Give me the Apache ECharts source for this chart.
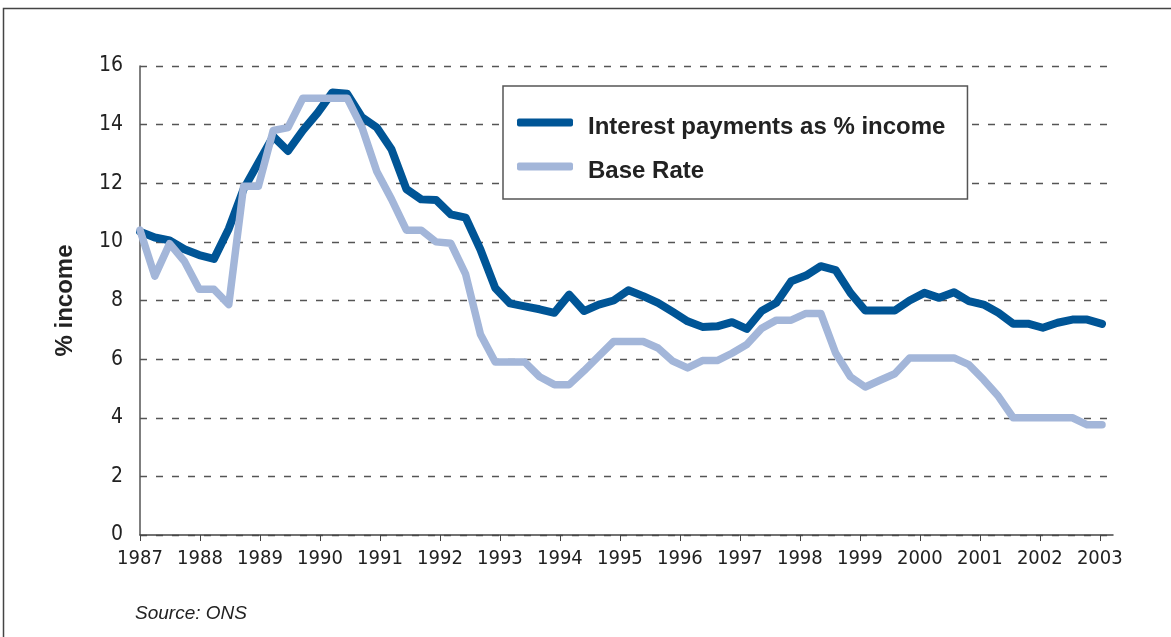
<!DOCTYPE html>
<html>
<head>
<meta charset="utf-8">
<script src="https://cdn.jsdelivr.net/npm/echarts@6.0.0/dist/echarts.min.js"></script>
<style>
  html, body { margin: 0; padding: 0; background: #fff; }
  #chart { width: 1171px; height: 637px; }
</style>
</head>
<body>
<div id="chart"></div>
<script>
// quarterly points, 1987 Q1 .. 2003 Q2
const quarters = [
  '1987 Q1','1987 Q2','1987 Q3','1987 Q4','1988 Q1','1988 Q2','1988 Q3','1988 Q4',
  '1989 Q1','1989 Q2','1989 Q3','1989 Q4','1990 Q1','1990 Q2','1990 Q3','1990 Q4',
  '1991 Q1','1991 Q2','1991 Q3','1991 Q4','1992 Q1','1992 Q2','1992 Q3','1992 Q4',
  '1993 Q1','1993 Q2','1993 Q3','1993 Q4','1994 Q1','1994 Q2','1994 Q3','1994 Q4',
  '1995 Q1','1995 Q2','1995 Q3','1995 Q4','1996 Q1','1996 Q2','1996 Q3','1996 Q4',
  '1997 Q1','1997 Q2','1997 Q3','1997 Q4','1998 Q1','1998 Q2','1998 Q3','1998 Q4',
  '1999 Q1','1999 Q2','1999 Q3','1999 Q4','2000 Q1','2000 Q2','2000 Q3','2000 Q4',
  '2001 Q1','2001 Q2','2001 Q3','2001 Q4','2002 Q1','2002 Q2','2002 Q3','2002 Q4',
  '2003 Q1','2003 Q2'
];

const interestPayments = [
  10.35, 10.15, 10.05, 9.75, 9.55, 9.42, 10.45, 11.8,
  12.7, 13.6, 13.1, 13.8, 14.4, 15.1, 15.05, 14.25,
  13.9, 13.15, 11.8, 11.45, 11.43, 10.94, 10.83, 9.74,
  8.43, 7.9, 7.8, 7.7, 7.58, 8.2, 7.64, 7.86,
  8.0, 8.35, 8.15, 7.92, 7.61, 7.29, 7.1, 7.12,
  7.26, 7.03, 7.64, 7.92, 8.66, 8.85, 9.17, 9.04,
  8.26, 7.66, 7.66, 7.66, 8.0, 8.26, 8.09, 8.28,
  7.98, 7.86, 7.58, 7.21, 7.21, 7.07, 7.24, 7.35,
  7.35, 7.2
];

const baseRate = [
  10.4, 8.83, 9.94, 9.34, 8.38, 8.38, 7.86, 11.9,
  11.9, 13.8, 13.9, 14.9, 14.9, 14.9, 14.9, 13.9,
  12.4, 11.45, 10.4, 10.4, 10.0, 9.95, 8.9, 6.85,
  5.9, 5.9, 5.9, 5.4, 5.13, 5.13, 5.6, 6.1,
  6.6, 6.6, 6.6, 6.38, 5.93, 5.7, 5.95, 5.95,
  6.2, 6.5, 7.05, 7.33, 7.33, 7.56, 7.56, 6.21,
  5.4, 5.05, 5.28, 5.5, 6.04, 6.04, 6.04, 6.04,
  5.81, 5.3, 4.73, 4.0, 4.0, 4.0, 4.0, 4.0,
  3.76, 3.76
];

const yearTicks = [1987, 1988, 1989, 1990, 1991, 1992, 1993, 1994, 1995,
  1996, 1997, 1998, 1999, 2000, 2001, 2002, 2003];

const darkBlue = '#005596';
const lightBlue = '#a3b6d9';
const narrow = "'Liberation Sans Narrow', 'DejaVu Sans Condensed', sans-serif";
const plain = "'Liberation Sans', Arial, sans-serif";

const chart = echarts.init(document.getElementById('chart'));

chart.setOption({
  backgroundColor: '#fff',
  animation: false,
  graphic: [
    {
      type: 'rect',
      shape: { x: 3.5, y: 8.5, width: 1300, height: 800 },
      style: { fill: 'none', stroke: '#444', lineWidth: 1.5 },
      silent: true
    },
    {
      type: 'text',
      left: 135,
      top: 604,
      style: {
        text: 'Source: ONS',
        font: 'italic 19px ' + plain,
        fill: '#222'
      }
    }
  ],
  legend: {
    data: ['Interest payments as % income', 'Base Rate'],
    orient: 'vertical',
    left: 503,
    top: 86,
    padding: [20, 22, 16, 14],
    itemGap: 11,
    itemWidth: 56,
    itemHeight: 8,
    icon: 'roundRect',
    backgroundColor: '#fff',
    borderColor: '#555',
    borderWidth: 1.5,
    borderRadius: 0,
    formatter: name => '{t|' + name + '}',
    textStyle: {
      fontFamily: plain,
      fontSize: 24,
      fontWeight: 'bold',
      color: '#222',
      rich: {
        t: {
          fontFamily: plain,
          fontSize: 24,
          fontWeight: 'bold',
          color: '#222',
          lineHeight: 28,
          padding: [9, 0, 0, 10]
        }
      }
    }
  },
  grid: [
    { left: 140, top: 66, width: 973, height: 469 },
    { left: 140, top: 66, width: 962, height: 469 }
  ],
  xAxis: [
    {
      gridIndex: 0,
      type: 'value',
      min: 1987,
      max: 2003.22,
      splitLine: { show: false },
      axisLine: { lineStyle: { color: '#444', width: 1.5 } },
      axisTick: {
        customValues: yearTicks,
        length: 6,
        lineStyle: { color: '#444', width: 1 }
      },
      axisLabel: {
        customValues: yearTicks,
        formatter: v => String(v),
        margin: 14,
        fontFamily: narrow,
        fontSize: 20,
        color: '#222'
      }
    },
    {
      gridIndex: 1,
      type: 'category',
      data: quarters,
      boundaryGap: false,
      show: false
    }
  ],
  yAxis: [
    {
      gridIndex: 0,
      type: 'value',
      min: 0,
      max: 16,
      interval: 2,
      name: '% income',
      nameLocation: 'middle',
      nameRotate: 90,
      nameGap: 63,
      nameTextStyle: {
        fontFamily: plain,
        fontSize: 24,
        fontWeight: 'bold',
        color: '#222'
      },
      axisLine: { show: true, lineStyle: { color: '#555', width: 1.5 } },
      axisTick: { show: false },
      axisLabel: {
        margin: 17,
        fontFamily: narrow,
        fontSize: 21,
        color: '#222'
      },
      splitLine: {
        lineStyle: { color: '#555', width: 1.3, type: [7, 9] }
      }
    },
    {
      gridIndex: 1,
      type: 'value',
      min: 0,
      max: 16,
      show: false,
      splitLine: { show: false }
    }
  ],
  series: [
    {
      name: 'Interest payments as % income',
      type: 'line',
      xAxisIndex: 1,
      yAxisIndex: 1,
      data: interestPayments,
      symbol: 'none',
      color: darkBlue,
      lineStyle: { width: 8, color: darkBlue, cap: 'round', join: 'round' }
    },
    {
      name: 'Base Rate',
      type: 'line',
      xAxisIndex: 1,
      yAxisIndex: 1,
      data: baseRate,
      symbol: 'none',
      color: lightBlue,
      lineStyle: { width: 7.5, color: lightBlue, cap: 'round', join: 'round' }
    }
  ]
});
</script>
</body>
</html>
